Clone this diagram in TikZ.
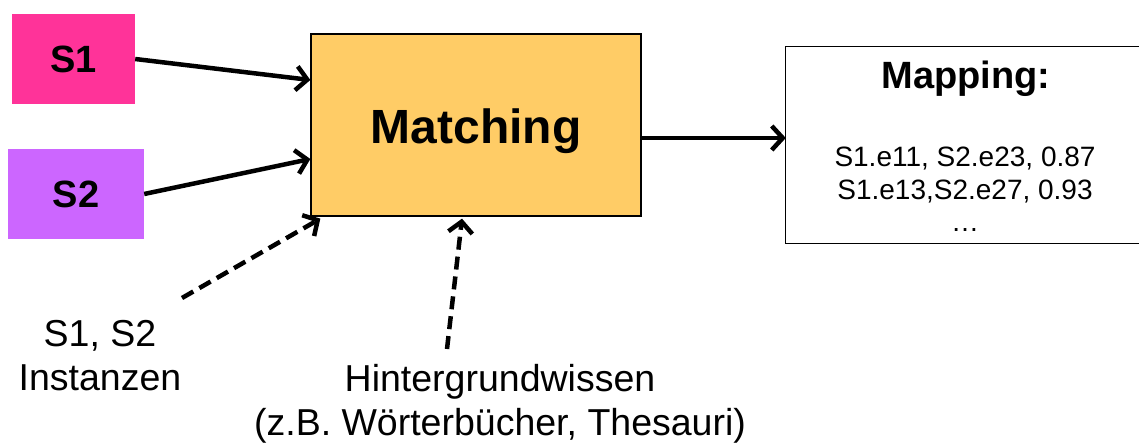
\documentclass[tikz,border=0pt]{standalone}
\usepackage{fontspec}
\setmainfont{Liberation Sans}
\usetikzlibrary{arrows.meta}
\definecolor{sonecol}{HTML}{FF3399}
\definecolor{stwocol}{HTML}{CC66FF}
\definecolor{matchcol}{HTML}{FFCC66}
\tikzset{
  srcbox/.style={minimum width=#1, minimum height=90pt, inner sep=0pt},
  bigbold/.style={font=\fontsize{38}{46}\selectfont\bfseries},
  lbl/.style={font=\fontsize{37.5}{44}\selectfont, align=center, inner sep=0pt},
  conn/.style={line width=4.5pt, -{Straight Barb[length=11pt,width=24pt]}},
  dconn/.style={conn, dash pattern=on 13pt off 7pt},
}
\begin{document}
\begin{tikzpicture}[x=1pt,y=-1pt]
\useasboundingbox (0,0) rectangle (1139,443);
% sources
\node[srcbox=123pt, fill=sonecol] (S1) at (73.5,59) {};
\node[bigbold, anchor=base] (S1t) at (73.5,73) {S1};
\node[srcbox=136pt, fill=stwocol] (S2) at (76,194) {};
\node[bigbold, anchor=base] (S2t) at (76,208) {S2};
% matching
\node[draw=black, line width=1.3pt, fill=matchcol, minimum width=330pt, minimum height=182pt, inner sep=0pt] (M) at (476,125) {};
\node[font=\fontsize{48}{56}\selectfont\bfseries, anchor=base] (Mt) at (476,144) {Matching};
% mapping (right side runs past the picture edge)
\node[fill=white, minimum width=380pt, minimum height=196pt, inner sep=0pt] (Map) at (976,145) {};
\draw[line width=1.3pt] (Map.north east) -- (Map.north west) -- (Map.south west) -- (Map.south east);
\node[bigbold, anchor=base] (Mapt) at (966,89) {Mapping:};
\node[font=\fontsize{28}{32.5}\selectfont, align=center, inner sep=0pt] (Mape) at (965,189.5) {S1.e11, S2.e23, 0.87\\S1.e13,S2.e27, 0.93\\…};
% labels
\node[lbl] (Inst) at (100,356) {S1, S2\\Instanzen};
\node[lbl] (Hint) at (500,404) {Hintergrundwissen\\(z.B. Wörterbücher, Thesauri)};
\coordinate (instend) at (182,298);
\coordinate (hintend) at (447,349);
% connectors
\draw[conn] (S1.east) -- ([yshift=45pt]M.west);
\draw[conn] (S2.east) -- ([yshift=-34pt]M.west);
\draw[conn] ([yshift=-13pt]M.east) -- ([yshift=-13pt]M.east -| Map.west);
\draw[dconn] (instend) -- ([xshift=10pt,yshift=-2pt]M.south west);
\draw[dconn] (hintend) -- ([xshift=-14pt,yshift=-2pt]M.south);
\end{tikzpicture}
\end{document}
